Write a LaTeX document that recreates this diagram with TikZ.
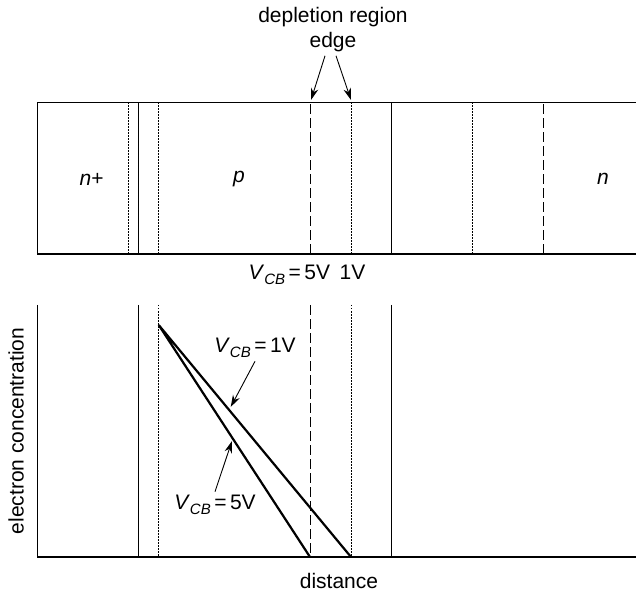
\documentclass[tikz,border=0pt]{standalone}
\usepackage{fontspec}
\setmainfont{Liberation Sans}
\usetikzlibrary{arrows.meta}
\newcommand{\vcblabel}{\textit{V}\raisebox{-5pt}{\fontsize{15}{15}\selectfont\textit{CB}}\,=\,}
\tikzset{
  thinline/.style={line width=0.9pt},
  baseline/.style={line width=1.3pt},
  dotline/.style={line width=1pt,dash pattern=on 1.5pt off 1.5pt},
  dashline/.style={line width=1pt,dash pattern=on 10pt off 4pt},
  profile/.style={line width=2.2pt},
  arr/.style={line width=0.9pt,-{Stealth[length=12pt,width=7.5pt]}}
}

\begin{document}
\begin{tikzpicture}[x=1pt,y=1pt,font=\fontsize{21}{25}\selectfont]
  \useasboundingbox (0,0) rectangle (636,592);
  % device cross section
  \draw[thinline] (636,490) -- (37,490) -- (37,338);
  \draw[baseline] (37,338) -- (636,338);
  \foreach \x in {128,158.7,351,472}{\draw[dotline] (\x,338) -- (\x,490);}
  \foreach \x in {310,543}{\draw[dashline] (\x,338) -- (\x,490);}
  \foreach \x in {138.5,391.5}{\draw[thinline] (\x,338) -- (\x,490);}
  \node (nplus) at (91.7,413) {\textit{n}+};
  \node (pbase) at (239,413) {\textit{p}};
  \node (ncoll) at (603,413) {\textit{n}};
  \node[align=center] (dep) at (333,562) {depletion region\\edge};
  \coordinate (edge5) at (311,492);
  \coordinate (edge1) at (351,492);
  \draw[arr] ([xshift=-8pt]dep.south) -- (edge5);
  \draw[arr] ([xshift=3pt]dep.south) -- (edge1);
  \node (vtop) at (307,317) {\vcblabel 5V\hspace{0.45em}1V};
  % electron concentration plot
  \draw[thinline] (37,287) -- (37,35);
  \draw[baseline] (37,35) -- (636,35);
  \foreach \x in {158.7,351}{\draw[dotline] (\x,287) -- (\x,35);}
  \draw[dashline] (310,287) -- (310,35);
  \foreach \x in {138.5,391.5}{\draw[thinline] (\x,287) -- (\x,35);}
  \coordinate (peak) at (158.7,267);
  \coordinate (end5) at (310,35);
  \coordinate (end1) at (351,35);
  \draw[profile,line cap=round] (end5) -- (peak) -- (end1);
  \node (lbl1) at (255,244) {\vcblabel 1V};
  \node (lbl5) at (215,87) {\vcblabel 5V};
  \coordinate (tip1) at (230.7,185);
  \coordinate (tip5) at (232,151);
  \draw[arr] (lbl1.south) -- (tip1);
  \draw[arr] (lbl5.north) -- (tip5);
  \node[rotate=90] (ylbl) at (16,161) {electron concentration};
  \node[anchor=base] (xlbl) at (339,4) {distance};
\end{tikzpicture}
\end{document}
